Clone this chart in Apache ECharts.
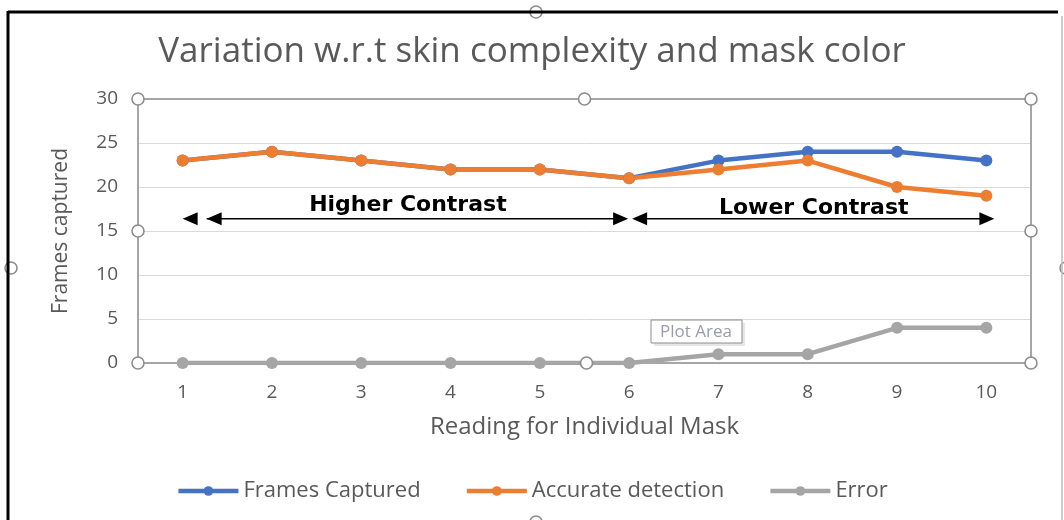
<!DOCTYPE html>
<html>
<head>
<meta charset="utf-8">
<title>Variation w.r.t skin complexity and mask color</title>
<script src="https://cdn.jsdelivr.net/npm/echarts@6/dist/echarts.min.js"></script>
<style>
  html, body { margin: 0; padding: 0; background: #fff; }
  #chart { width: 1064px; height: 520px; }
</style>
</head>
<body>
<div id="chart"></div>
<script>
// data
const categories = ['1', '2', '3', '4', '5', '6', '7', '8', '9', '10'];
const framesCaptured = [23, 24, 23, 22, 22, 21, 23, 24, 24, 23];
const accurateDetection = [23, 24, 23, 22, 22, 21, 22, 23, 20, 19];
const errorCounts = [0, 0, 0, 0, 0, 0, 1, 1, 4, 4];

// annotation bands and the value the arrows sit at
const contrastLabels = ['Higher Contrast', 'Lower Contrast'];
const arrowLevel = 16.4;

const FONT = '"Open Sans", "Noto Sans", sans-serif';
const GREY = '#595959';

// plot area box in pixels
const G = { left: 138, top: 99, right: 33, bottom: 157 };
const gx0 = G.left, gx1 = 1064 - G.right, gy0 = G.top, gy1 = 520 - G.bottom;

const chart = echarts.init(document.getElementById('chart'));

const lineSeries = (name, data, color) => ({
    name: name,
    type: 'line',
    data: data,
    symbol: 'circle',
    symbolSize: 12,
    lineStyle: { width: 4.5, color: color },
    itemStyle: { color: color },
    emphasis: { disabled: true },
    animation: false
});

chart.setOption({
    title: {
        text: 'Variation w.r.t skin complexity and mask color',
        left: 'center',
        top: 30,
        textStyle: { fontFamily: FONT, fontSize: 35, fontWeight: 'normal', color: GREY }
    },
    legend: {
        bottom: 13,
        left: 'center',
        itemGap: 44,
        itemWidth: 60,
        itemHeight: 12,
        lineStyle: { width: 4.5 },
        textStyle: { fontFamily: FONT, fontSize: 22, color: GREY },
        data: ['Frames Captured', 'Accurate detection', 'Error']
    },
    grid: { left: G.left, right: G.right, top: G.top, bottom: G.bottom },
    xAxis: {
        type: 'category',
        data: categories,
        name: 'Reading for Individual Mask',
        nameLocation: 'middle',
        nameGap: 52,
        nameTextStyle: { fontFamily: FONT, fontSize: 24, color: GREY },
        axisTick: { show: false },
        axisLine: { lineStyle: { color: '#a6a6a6', width: 2 } },
        axisLabel: { fontFamily: FONT, fontSize: 19, color: GREY, margin: 20 }
    },
    yAxis: {
        type: 'value',
        min: 0,
        max: 30,
        interval: 5,
        name: 'Frames captured',
        nameLocation: 'middle',
        nameGap: 66,
        nameTextStyle: { fontFamily: FONT, fontSize: 21, color: GREY },
        axisLine: { show: false },
        axisTick: { show: false },
        splitLine: { lineStyle: { color: '#d9d9d9', width: 1 } },
        axisLabel: { fontFamily: FONT, fontSize: 19, color: GREY, margin: 20 }
    },
    series: [
        lineSeries('Frames Captured', framesCaptured, '#4472c4'),
        lineSeries('Accurate detection', accurateDetection, '#ed7d31'),
        lineSeries('Error', errorCounts, '#a5a5a5')
    ]
});

// ---- annotations and the Excel selection frame ----
const px = (cat, val) => chart.convertToPixel({ gridIndex: 0 }, [cat, val]);

const arrowHead = (tipX, y, dir) => ({
    type: 'polygon',
    shape: { points: [[tipX, y], [tipX - dir * 15, y - 6.5], [tipX - dir * 15, y + 6.5]] },
    style: { fill: '#000' },
    z: 20
});

const handle = (x, y) => ({
    type: 'circle',
    shape: { cx: x, cy: y, r: 6 },
    style: { fill: '#fff', stroke: '#8c8c8c', lineWidth: 1.6 },
    z: 30
});

const [hx1, ay] = px('1', arrowLevel);
const hx6 = px('6', arrowLevel)[0];
const hx10 = px('10', arrowLevel)[0];
const textY1 = px('1', 17.9)[1];
const textY2 = px('1', 17.6)[1];
const labelFont = 'bold 22px "DejaVu Sans", sans-serif';

const graphic = [
    // higher contrast arrow
    { type: 'line', shape: { x1: hx1 + 24, y1: ay, x2: hx6 - 8, y2: ay }, style: { stroke: '#000', lineWidth: 1.6 }, z: 20 },
    arrowHead(hx1, ay, -1),
    arrowHead(hx1 + 24, ay, -1),
    arrowHead(hx6 - 1, ay, 1),
    { type: 'text', x: (hx1 + hx6) / 2 + 2, y: textY1, style: { text: contrastLabels[0], font: labelFont, fill: '#000', align: 'center', verticalAlign: 'middle' }, z: 20 },
    // lower contrast arrow
    { type: 'line', shape: { x1: hx6 + 10, y1: ay, x2: hx10 - 4, y2: ay }, style: { stroke: '#000', lineWidth: 1.6 }, z: 20 },
    arrowHead(hx6 + 3, ay, -1),
    arrowHead(hx10 + 8, ay, 1),
    { type: 'text', x: (hx6 + hx10) / 2 + 6, y: textY2, style: { text: contrastLabels[1], font: labelFont, fill: '#000', align: 'center', verticalAlign: 'middle' }, z: 20 },

    // plot area selection frame
    { type: 'rect', shape: { x: gx0, y: gy0, width: gx1 - gx0, height: gy1 - gy0 }, style: { fill: 'none', stroke: '#a6a6a6', lineWidth: 2 }, z: 25 },
    handle(gx0, gy0), handle((gx0 + gx1) / 2, gy0), handle(gx1, gy0),
    handle(gx0, (gy0 + gy1) / 2), handle(gx1, (gy0 + gy1) / 2),
    handle(gx0, gy1), handle((gx0 + gx1) / 2 + 2, gy1), handle(gx1, gy1),

    // "Plot Area" hover tag
    { type: 'rect', shape: { x: 654, y: 323, width: 91, height: 23 }, style: { fill: '#e6e6e6' }, z: 34 },
    { type: 'rect', shape: { x: 651, y: 320, width: 91, height: 23 }, style: { fill: '#fff', stroke: '#8c8c8c', lineWidth: 1 }, z: 35 },
    { type: 'text', x: 696, y: 332, style: { text: 'Plot Area', font: '17px "Open Sans", sans-serif', fill: '#9a9aaa', align: 'center', verticalAlign: 'middle' }, z: 36 },

    // chart area frame
    { type: 'line', shape: { x1: 8, y1: 12, x2: 1058, y2: 12 }, style: { stroke: '#000', lineWidth: 3 }, z: 40 },
    { type: 'line', shape: { x1: 8, y1: 11, x2: 8, y2: 520 }, style: { stroke: '#000', lineWidth: 3 }, z: 40 },
    { type: 'line', shape: { x1: 1062, y1: 16, x2: 1062, y2: 520 }, style: { stroke: '#bdbdbd', lineWidth: 1.5 }, z: 40 },
    handle(536, 12), handle(11, 268), handle(1066, 268), handle(536, 522)
];

chart.setOption({ graphic: graphic });
</script>
</body>
</html>
